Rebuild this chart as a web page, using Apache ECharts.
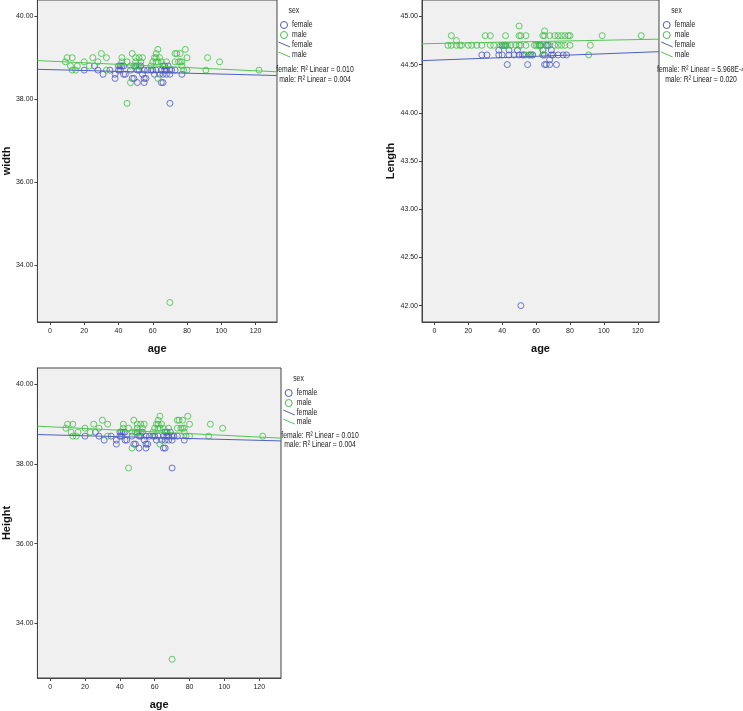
<!DOCTYPE html>
<html><head><meta charset="utf-8">
<script src="https://cdn.jsdelivr.net/npm/echarts@6/dist/echarts.min.js"></script>
<style>html,body{margin:0;padding:0;background:#fff}#c{width:743px;height:711px}</style>
</head><body><div id="c"></div>
<script>
// ---- data ----
const ageTicks = [0, 20, 40, 60, 80, 100, 120];
const widthTicks = [34, 36, 38, 40];
const heightTicks = [34, 36, 38, 40];
const lengthTicks = [42, 42.5, 43, 43.5, 44, 44.5, 45];

const widthFemale = [[20,38.7],[26,38.8],[28,38.7],[31,38.6],[35,38.7],[38,38.5],[38,38.6],[40,38.7],[40,38.8],[41,38.8],[42,38.8],[43,38.8],[43,38.6],[44,38.6],[48,38.5],[49,38.5],[51,38.4],[50,38.8],[51,38.7],[52,38.7],[53,38.8],[54,38.6],[55,38.5],[55,38.4],[56,38.5],[55,38.7],[57,38.7],[59,38.7],[61,38.6],[62,38.7],[64,38.6],[65,38.4],[66,38.4],[65,38.7],[66,38.8],[66,38.6],[67,38.7],[67,38.8],[68,38.7],[68,38.6],[69,38.8],[70,38.7],[70,38.6],[71,38.7],[73,38.7],[77,38.6],[70,37.9],[41,38.7],[47,38.7],[60,38.7]];
const widthMale = [[9,38.9],[10,39.0],[13,39.0],[12,38.8],[13,38.7],[15,38.7],[16,38.8],[20,38.9],[23,38.8],[25,39.0],[28,38.9],[30,39.1],[33,39.0],[33,38.7],[42,39.0],[42,38.9],[45,38.9],[47,38.8],[47,38.4],[45,37.9],[48,39.1],[50,39.0],[50,38.9],[49,38.8],[51,38.8],[52,39.0],[52,38.8],[53,38.9],[54,39.0],[60,38.9],[59,38.8],[61,39.0],[62,38.9],[62,39.1],[63,39.2],[62,39.0],[64,39.0],[63,38.9],[65,38.9],[63,38.5],[68,38.9],[73,39.1],[74,39.1],[76,39.1],[73,38.9],[75,38.9],[76,38.9],[77,38.9],[77,38.8],[79,39.2],[80,39.0],[80,38.7],[78,38.7],[91,38.7],[92,39.0],[99,38.9],[122,38.7],[70,33.1]];
const widthFitFemale = [[-7.3,38.72],[132.5,38.57]];
const widthFitMale = [[-7.3,38.93],[132.5,38.66]];

const heightFemale = widthFemale.map(p => p.slice());
const heightMale = widthMale.map(p => p.slice());
const heightFitFemale = [[-7.3,38.74],[132.5,38.58]];
const heightFitMale = [[-7.3,38.95],[132.5,38.65]];

const lengthFemale = [[28,44.6],[31,44.6],[38,44.65],[38,44.6],[40,44.6],[40,44.7],[41,44.7],[42,44.7],[43,44.5],[44,44.65],[44,44.6],[47,44.6],[49,44.65],[50,44.6],[52,44.6],[53,44.6],[55,44.5],[56,44.6],[57,44.6],[58,44.6],[62,44.7],[63,44.7],[64,44.65],[64,44.6],[65,44.5],[65,44.6],[66,44.5],[66,44.7],[67,44.7],[68,44.5],[68,44.55],[69,44.65],[69,44.6],[70,44.6],[72,44.5],[73,44.6],[76,44.6],[78,44.6],[51,42.0]];
const lengthMale = [[8,44.7],[10,44.8],[10,44.7],[13,44.7],[13,44.75],[15,44.7],[16,44.7],[20,44.7],[22,44.7],[25,44.7],[28,44.7],[30,44.8],[33,44.8],[33,44.7],[35,44.7],[39,44.7],[41,44.7],[42,44.8],[42,44.7],[43,44.7],[45,44.7],[48,44.7],[50,44.9],[50,44.8],[50,44.7],[51,44.8],[51,44.7],[54,44.8],[54,44.7],[54,44.6],[56,44.6],[58,44.6],[59,44.7],[60,44.7],[61,44.7],[62,44.7],[63,44.7],[64,44.8],[64,44.65],[64,44.6],[65,44.85],[65,44.8],[66,44.7],[68,44.8],[68,44.7],[71,44.8],[71,44.7],[73,44.8],[73,44.7],[75,44.8],[75,44.7],[77,44.8],[77,44.7],[79,44.8],[80,44.8],[80,44.7],[91,44.6],[92,44.7],[99,44.8],[122,44.8]];
const lengthFitFemale = [[-7.3,44.541],[132.5,44.634]];
const lengthFitMale = [[-7.3,44.716],[132.5,44.764]];

const sexLabels = ['female', 'male'];
const r2Width = ['female: R\u00B2 Linear = 0.010', 'male: R\u00B2 Linear = 0.004'];
const r2Length = ['female: R\u00B2 Linear = 5.968E-4', 'male: R\u00B2 Linear = 0.020'];
const r2Height = ['female: R\u00B2 Linear = 0.010', 'male: R\u00B2 Linear = 0.004'];

// ---- styling ----
const BLUE = '#4a58c0';
const GREEN = '#3fbf45';
const BLUE_LINE = '#5060bf';
const GREEN_LINE = '#55c455';
const SANS = '"Liberation Sans", Arial, sans-serif';

const chart = echarts.init(document.getElementById('c'), null, {renderer: 'canvas'});

const grids = [
  {left: 34, top: 0, width: 243, height: 322},
  {left: 422, top: 0, width: 237, height: 322},
  {left: 35, top: 368, width: 246, height: 310}
];
const yInfo = [
  {name: 'width', min: 32.63, max: 40.39, ticks: widthTicks},
  {name: 'Length', min: 41.83, max: 45.17, ticks: lengthTicks},
  {name: 'Height', min: 32.63, max: 40.41, ticks: heightTicks}
];

const option = {
  animation: false,
  backgroundColor: '#fff',
  grid: grids.map(g => Object.assign({show: true, backgroundColor: '#f0f0f0', borderColor: '#444', borderWidth: 1}, g)),
  xAxis: grids.map((g, i) => ({
    gridIndex: i, type: 'value', min: -7.3, max: 132.5,
    splitLine: {show: false},
    axisLine: {show: true, onZero: false, lineStyle: {color: '#444'}},
    axisTick: {show: true, customValues: ageTicks, length: 3, lineStyle: {color: '#444'}},
    axisLabel: {customValues: ageTicks, fontSize: 7, fontFamily: SANS, color: '#222', margin: 6},
    name: 'age', nameLocation: 'middle', nameGap: 21,
    nameTextStyle: {fontWeight: 'bold', fontSize: 11, fontFamily: SANS, color: '#111'}
  })),
  yAxis: yInfo.map((y, i) => ({
    gridIndex: i, type: 'value', min: y.min, max: y.max,
    splitLine: {show: false},
    axisLine: {show: true, onZero: false, lineStyle: {color: '#444'}},
    axisTick: {show: true, customValues: y.ticks, length: 3, lineStyle: {color: '#444'}},
    axisLabel: {customValues: y.ticks, fontSize: 7, fontFamily: SANS, color: '#222', margin: 4,
      formatter: v => Number(v).toFixed(2)},
    name: y.name, nameLocation: 'middle', nameGap: 23, nameRotate: 90,
    nameTextStyle: {fontWeight: 'bold', fontSize: 11, fontFamily: SANS, color: '#111'}
  })),
  series: []
};

const panels = [
  [widthFemale, widthMale, widthFitFemale, widthFitMale],
  [lengthFemale, lengthMale, lengthFitFemale, lengthFitMale],
  [heightFemale, heightMale, heightFitFemale, heightFitMale]
];
panels.forEach((p, i) => {
  option.series.push(
    {type: 'scatter', xAxisIndex: i, yAxisIndex: i, data: p[0], symbol: 'circle', symbolSize: 6,
     itemStyle: {color: 'rgba(0,0,0,0)', borderColor: BLUE, borderWidth: 1}, silent: true},
    {type: 'scatter', xAxisIndex: i, yAxisIndex: i, data: p[1], symbol: 'circle', symbolSize: 6,
     itemStyle: {color: 'rgba(0,0,0,0)', borderColor: GREEN, borderWidth: 1}, silent: true},
    {type: 'line', xAxisIndex: i, yAxisIndex: i, data: p[2], showSymbol: false, symbol: 'none',
     lineStyle: {color: BLUE_LINE, width: 1}, silent: true, z: 5},
    {type: 'line', xAxisIndex: i, yAxisIndex: i, data: p[3], showSymbol: false, symbol: 'none',
     lineStyle: {color: GREEN_LINE, width: 1}, silent: true, z: 5}
  );
});

// ---- legends (graphic) ----
function legend(cx, y0, rows, r2, r2cx) {
  const els = [];
  const txt = (x, y, t, align) => ({type: 'text', x: x, y: y, scaleX: 0.76,
    style: {text: t, font: '9px ' + SANS, fill: '#222', verticalAlign: 'middle', align: align || 'left'}});
  els.push(txt(cx + 4.5, y0, 'sex'));
  els.push({type: 'circle', shape: {cx: cx, cy: y0 + rows[0], r: 3.5}, style: {fill: 'none', stroke: BLUE, lineWidth: 1}});
  els.push(txt(cx + 8, y0 + rows[0], sexLabels[0]));
  els.push({type: 'circle', shape: {cx: cx, cy: y0 + rows[1], r: 3.5}, style: {fill: 'none', stroke: GREEN, lineWidth: 1}});
  els.push(txt(cx + 8, y0 + rows[1], sexLabels[1]));
  els.push({type: 'line', shape: {x1: cx - 5.5, y1: y0 + rows[2] - 3, x2: cx + 6, y2: y0 + rows[2] + 2}, style: {stroke: BLUE_LINE, lineWidth: 1}});
  els.push(txt(cx + 8, y0 + rows[2], sexLabels[0]));
  els.push({type: 'line', shape: {x1: cx - 5.5, y1: y0 + rows[3] - 3, x2: cx + 6, y2: y0 + rows[3] + 2}, style: {stroke: GREEN_LINE, lineWidth: 1}});
  els.push(txt(cx + 8, y0 + rows[3], sexLabels[1]));
  els.push(txt(r2cx, y0 + rows[4], r2[0], 'center'));
  els.push(txt(r2cx, y0 + rows[5], r2[1], 'center'));
  return els;
}
option.graphic = [].concat(
  legend(284, 11, [14, 24, 34, 44, 59, 69], r2Width, 315),
  legend(666.7, 11, [14, 24, 34, 44, 59, 69], r2Length, 701),
  legend(288.7, 379, [14, 24, 34, 43, 57, 66], r2Height, 320)
);

chart.setOption(option);
</script></body></html>
